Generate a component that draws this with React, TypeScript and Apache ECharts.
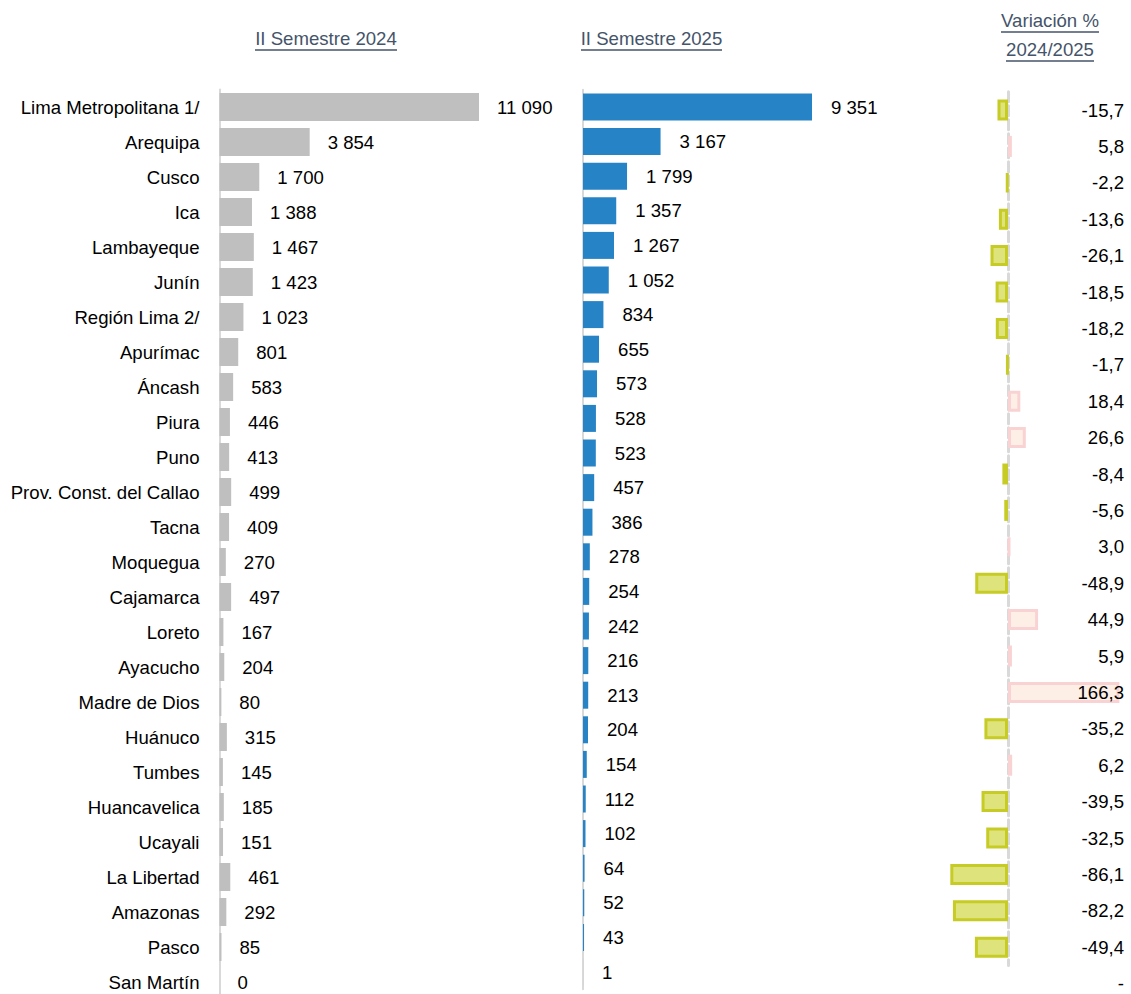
import React, { useEffect, useRef } from "react";
import * as echarts from "echarts";

const categories = [
  "Lima Metropolitana 1/", "Arequipa", "Cusco", "Ica", "Lambayeque", "Junín",
  "Región Lima 2/", "Apurímac", "Áncash", "Piura", "Puno",
  "Prov. Const. del Callao", "Tacna", "Moquegua", "Cajamarca", "Loreto",
  "Ayacucho", "Madre de Dios", "Huánuco", "Tumbes", "Huancavelica", "Ucayali",
  "La Libertad", "Amazonas", "Pasco", "San Martín",
];
const values2024 = [
  11090, 3854, 1700, 1388, 1467, 1423, 1023, 801, 583, 446, 413, 499, 409,
  270, 497, 167, 204, 80, 315, 145, 185, 151, 461, 292, 85, 0,
];
const values2025 = [
  9351, 3167, 1799, 1357, 1267, 1052, 834, 655, 573, 528, 523, 457, 386,
  278, 254, 242, 216, 213, 204, 154, 112, 102, 64, 52, 43, 1,
];
// Variation column as printed (24 values plus a final "-")
const variation: (number | null)[] = [
  -15.7, 5.8, -2.2, -13.6, -26.1, -18.5, -18.2, -1.7, 18.4, 26.6, -8.4, -5.6,
  3.0, -48.9, 44.9, 5.9, 166.3, -35.2, 6.2, -39.5, -32.5, -86.1, -82.2, -49.4,
  null,
];
const headers = ["II Semestre 2024", "II Semestre 2025", "Variación %", "2024/2025"];

const FONT = "'Liberation Sans', Arial, sans-serif";
const FS = 18.6;
const HEAD = "#44546A";

const fmtInt = (n: number) => String(n).replace(/\B(?=(\d{3})+(?!\d))/g, " ");
const fmtVar = (v: number | null) => (v === null ? "-" : v.toFixed(1).replace(".", ","));

export default function App() {
  const ref = useRef<HTMLDivElement>(null);
  useEffect(() => {
    if (!ref.current) return;
    const chart = echarts.init(ref.current, null, { renderer: "svg" });
    const varBars = variation.filter((v) => v !== null) as number[];
    const varIdx = varBars.map((_, i) => String(i));
    const varLabels = variation.map(fmtVar);

    const headText = (text: string, cx: number, y: number) => ({
      type: "text",
      x: cx,
      y,
      style: {
        text,
        fill: HEAD,
        font: `${FS}px ${FONT}`,
        textAlign: "center",
        textVerticalAlign: "middle",
      },
    });
    const underline = (x1: number, x2: number, y: number) => ({
      type: "line",
      shape: { x1, y1: y, x2, y2: y },
      style: { stroke: HEAD, lineWidth: 1.5 },
    });

    const catAxisBase = {
      type: "category" as const,
      inverse: true,
      axisTick: { show: false },
      splitLine: { show: false },
    };

    chart.setOption({
      animation: false,
      textStyle: { fontFamily: FONT },
      grid: [
        { left: 219.5, top: 89.5, width: 280.8, height: 26 * 35, outerBoundsMode: "none", containLabel: false },
        { left: 583, top: 89.7, width: 293.9, height: 26 * 34.6, outerBoundsMode: "none", containLabel: false },
        { left: 907.5, top: 91.8, width: 234.5, height: 24 * 36.4, outerBoundsMode: "none", containLabel: false },
        { left: 1130, top: 91.8, width: 1, height: 25 * 36.4, outerBoundsMode: "none", containLabel: false },
      ],
      xAxis: [
        { type: "value", gridIndex: 0, min: 0, max: 12000, show: false },
        { type: "value", gridIndex: 1, min: 0, max: 12000, show: false },
        { type: "value", gridIndex: 2, min: -150, max: 200, show: false },
        { type: "value", gridIndex: 3, min: 0, max: 1, show: false },
      ],
      yAxis: [
        {
          ...catAxisBase,
          gridIndex: 0,
          data: categories,
          axisLine: { show: true, lineStyle: { color: "#D9D9D9", width: 2 } },
          axisLabel: { color: "#000", fontSize: FS, fontFamily: FONT, margin: 20 },
        },
        {
          ...catAxisBase,
          gridIndex: 1,
          data: categories,
          axisLine: { show: true, lineStyle: { color: "#D9D9D9", width: 2 } },
          axisLabel: { show: false },
        },
        {
          ...catAxisBase,
          gridIndex: 2,
          data: varIdx,
          axisLine: {
            show: true,
            onZero: true,
            lineStyle: { color: "#D9D9D9", width: 3, type: [10, 4] },
          },
          axisLabel: { show: false },
        },
        {
          ...catAxisBase,
          gridIndex: 3,
          data: varLabels,
          z: 10,
          axisLine: { show: false },
          axisLabel: { color: "#000", fontSize: FS, fontFamily: FONT, margin: 6 },
        },
      ],
      series: [
        {
          type: "bar",
          xAxisIndex: 0,
          yAxisIndex: 0,
          data: values2024,
          barWidth: 28,
          itemStyle: { color: "#BFBFBF" },
          label: {
            show: true,
            position: "right",
            distance: 18,
            color: "#000",
            fontSize: FS,
            fontFamily: FONT,
            formatter: (p: any) => fmtInt(p.value),
          },
        },
        {
          type: "bar",
          xAxisIndex: 1,
          yAxisIndex: 1,
          data: values2025,
          barWidth: 27,
          itemStyle: { color: "#2683C6" },
          label: {
            show: true,
            position: "right",
            distance: 19,
            color: "#000",
            fontSize: FS,
            fontFamily: FONT,
            formatter: (p: any) => fmtInt(p.value),
          },
        },
        {
          type: "bar",
          xAxisIndex: 2,
          yAxisIndex: 2,
          barWidth: 21,
          data: varBars.map((v) => ({
            value: v,
            itemStyle:
              v < 0
                ? { color: "#DFE37B", borderColor: "#C6CC25", borderWidth: 3 }
                : { color: "#FDEFE5", borderColor: "#F9D3D3", borderWidth: 3 },
          })),
        },
      ],
      graphic: [
        headText(headers[0], 326, 38),
        underline(255, 397, 50),
        headText(headers[1], 651.5, 38),
        underline(581, 722, 50),
        headText(headers[2], 1050, 20),
        underline(1001, 1099, 32),
        headText(headers[3], 1050, 49),
        underline(1006, 1094, 61),
      ],
    });
    return () => chart.dispose();
  }, []);
  return (
    <div
      ref={ref}
      style={{ position: "absolute", left: 0, top: 0, width: 1131, height: 994 }}
    />
  );
}
